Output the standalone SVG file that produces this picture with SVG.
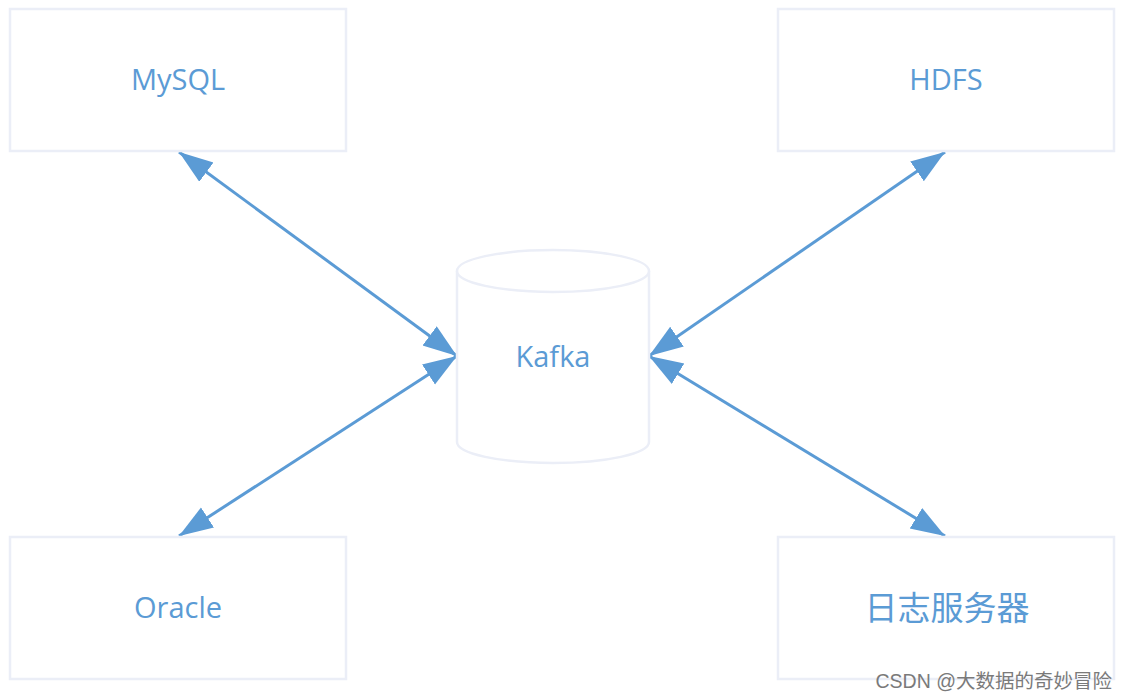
<svg xmlns="http://www.w3.org/2000/svg" width="1127" height="700" viewBox="0 0 1127 700">
<style>
.box{fill:#fff;stroke:#EBEEF7;stroke-width:2.5}
.lbl{font-family:"Open Sans","Liberation Sans","Noto Sans CJK SC",sans-serif;font-size:29px;fill:#5B9BD5;text-anchor:middle}
.cjk{font-family:"Noto Sans CJK SC",sans-serif;font-size:33px;fill:#5B9BD5;text-anchor:middle}
.edge{stroke:#5B9BD5;stroke-width:3;fill:none;marker-start:url(#ah);marker-end:url(#ah)}
.wm{font-family:"Liberation Sans","Noto Sans CJK SC",sans-serif;font-size:19.5px;fill:#7a7a7a;text-anchor:end}
</style>
<defs>
<marker id="ah" markerUnits="userSpaceOnUse" markerWidth="36" markerHeight="26" refX="34" refY="12" orient="auto-start-reverse" viewBox="0 0 36 26">
<path d="M0,0 L34,12 L0,24 Z" fill="#5B9BD5"/>
</marker>
</defs>
<rect width="1127" height="700" fill="#fff"/>
<g id="connectors">
<line class="edge" x1="179" y1="152" x2="457" y2="356"/>
<line class="edge" x1="945" y1="152" x2="649" y2="356"/>
<line class="edge" x1="179" y1="536" x2="457" y2="356"/>
<line class="edge" x1="945" y1="536" x2="649" y2="356"/>
</g>
<g id="mysql"><rect class="box" x="10" y="9" width="336" height="142"/><text class="lbl" x="178" y="90">MySQL</text></g>
<g id="hdfs"><rect class="box" x="778" y="9" width="336" height="142"/><text class="lbl" x="946" y="90">HDFS</text></g>
<g id="oracle"><rect class="box" x="10" y="537" width="336" height="142"/><text class="lbl" x="178" y="618">Oracle</text></g>
<g id="logserver"><rect class="box" x="778" y="537" width="336" height="142"/><text class="cjk" x="947" y="620">日志服务器</text></g>
<g id="kafka">
<path d="M457,271 L457,442 A96,21 0 0 0 649,442 L649,271" fill="#fff" stroke="#EBEEF7" stroke-width="2.5"/>
<ellipse cx="553" cy="271" rx="96" ry="21" fill="#fff" stroke="#EBEEF7" stroke-width="2.5"/>
<text class="lbl" x="553" y="367">Kafka</text>
</g>
<text class="wm" x="1112" y="688">CSDN @大数据的奇妙冒险</text>
</svg>
